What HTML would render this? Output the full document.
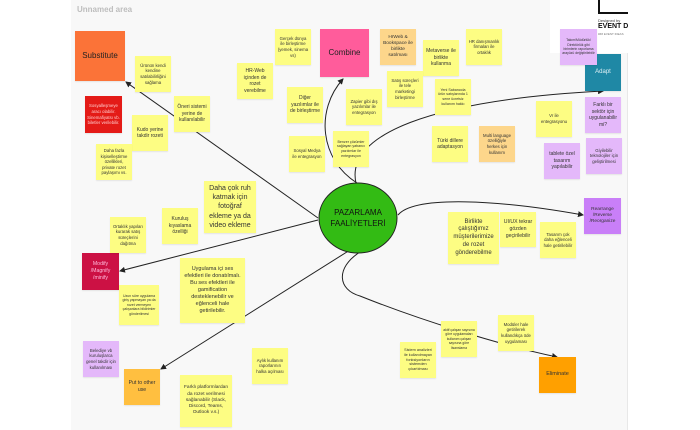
<!DOCTYPE html>
<html><head><meta charset="utf-8"><style>
*{margin:0;padding:0;box-sizing:border-box}
body{width:700px;height:430px;background:#fff;position:relative;overflow:hidden;font-family:"Liberation Sans",sans-serif}
#cv{position:absolute;left:71px;top:0;width:557px;height:430px;background:#f8f8f8;border-right:1px solid #e8e8e8}
.n{position:absolute;width:36px;height:36px;background:#fdfd83;color:#333;display:flex;align-items:center;justify-content:center;text-align:center;font-size:4.3px;line-height:1.3;padding:2px;box-shadow:0 1px 1px rgba(0,0,0,.08)}
.m{font-size:5.5px}
.l{font-size:7px;line-height:1.3}
.o{background:#fdd68b}
.p{background:#e4b8fa}
.big{width:50px;height:50px;font-size:8px}
</style></head><body>
<div id="cv"></div>
<div style="position:absolute;left:77px;top:5px;font-size:8px;color:#bdbdbd;font-weight:bold">Unnamed area</div>
<div style="position:absolute;left:550px;top:0;width:78px;height:53px;background:#fff"></div>
<div style="position:absolute;left:598px;top:0;width:30px;height:14px;border-left:2px solid #111;border-bottom:2px solid #111"></div>
<div style="position:absolute;left:598px;top:18px;font-size:4px;color:#333">Designed by</div>
<div style="position:absolute;left:598px;top:23px;font-size:7px;font-weight:bold;color:#111;white-space:nowrap;width:30px;overflow:hidden">EVENT D</div>
<div style="position:absolute;left:598px;top:32px;font-size:3px;color:#777;white-space:nowrap;width:30px;overflow:hidden">### EVENT IDEAS</div>

<svg style="position:absolute;left:0;top:0" width="700" height="430">
<defs><marker id="a" markerWidth="6" markerHeight="6" refX="5" refY="3" orient="auto"><path d="M0,0 L6,3 L0,6z" fill="#222"/></marker></defs>
<g stroke="#222" stroke-width="1" fill="none" marker-end="url(#a)">
<path d="M318,218 L126,82"/>
<path d="M318,220 L120,271"/>
<path d="M350,250 L161,369"/>
<path d="M357,183 C320,160 315,110 343,79"/>
<path d="M356,183 C345,135 430,100 603,91"/>
<path d="M398,215 C415,195 500,200 583,215"/>
<path d="M360,252 C335,268 338,290 360,296 C420,320 500,345 557,357"/>
</g>
<ellipse cx="358" cy="218" rx="39" ry="35" fill="#33bb14" stroke="#222" stroke-width="1"/>
<text x="358" y="215" text-anchor="middle" font-size="8" fill="#111">PAZARLAMA</text>
<text x="358" y="226" text-anchor="middle" font-size="8" fill="#111">FAALİYETLERİ</text>
</svg>

<div class="n big" style="left:75px;top:31px;background:#fb7338;color:#222">Substitute</div>
<div class="n big" style="left:320px;top:29px;width:49px;height:48px;background:#ff5c9b;color:#222">Combine</div>
<div class="n" style="left:585px;top:54px;height:37px;background:#1f88a5;color:#e0f0f5;font-size:6px">Adapt</div>
<div class="n" style="left:584px;top:198px;width:37px;background:#c97ff8;font-size:4.8px">Rearrange /Reverse /Reorganize</div>
<div class="n" style="left:82px;top:253px;width:37px;height:37px;background:#cc1144;color:#fbd;font-size:5.2px">Modify /Magnify /minify</div>
<div class="n" style="left:124px;top:369px;background:#ffbf40;font-size:5.2px">Put to other use</div>
<div class="n" style="left:539px;top:357px;width:37px;background:#ffa000;font-size:5.5px">Eliminate</div>

<div class="n" style="left:135px;top:56px">Ürünün kendi kendine satılabilirliğini sağlama</div>
<div class="n" style="left:85px;top:96px;width:37px;height:37px;background:#e41b17;color:#fcc">Sosyalleşmeye aracı olabilir. Sinemafiyatsı vb. biletler verilebilir.</div>
<div class="n" style="left:174px;top:96px;font-size:5px">Öneri sistemi yerine de kullanılabilir</div>
<div class="n" style="left:132px;top:115px;font-size:5px">Kudo yerine takdir rozeti</div>
<div class="n" style="left:96px;top:144px">Daha fazla kişiselleştirme özellikleri, private rozet paylaşımı vs.</div>
<div class="n" style="left:275px;top:29px">Gerçek dünya ile birleştirme (yemek, sinema vs)</div>
<div class="n" style="left:237px;top:63px;font-size:5px">HR-Web içinden de rozet verebilme</div>
<div class="n" style="left:287px;top:87px;font-size:5px">Diğer yazılımlar ile de birleştirme</div>
<div class="n" style="left:289px;top:136px">Sosyal Medya ile entegrasyon</div>
<div class="n" style="left:346px;top:89px">Zapier gibi dış yazılımlar ile entegrasyon</div>
<div class="n" style="left:333px;top:131px;font-size:3.6px">Benzer çözümler sağlayan yabancı yazılımlar ile entegrasyon</div>
<div class="n l" style="left:204px;top:181px;width:52px;height:52px">Daha çok ruh katmak için fotoğraf ekleme ya da video ekleme</div>
<div class="n" style="left:162px;top:208px;font-size:5px">Kuruluş kıyaslama özelliği</div>
<div class="n o" style="left:380px;top:29px;font-size:4.8px">HrWeb &amp; Bookspace ile birlikte satılması</div>
<div class="n" style="left:423px;top:40px;font-size:5px">Metaverse ile birlikte kullanma</div>
<div class="n" style="left:466px;top:29px">HR danışmanlık firmaları ile ortaklık</div>
<div class="n" style="left:387px;top:71px">Satış süreçleri ile tele marketingi birleştirme</div>
<div class="n" style="left:435px;top:79px;font-size:3.6px">Yeni Sabancıda ürün satışlarında 1 sene ücretsiz kullanım hakkı</div>
<div class="n" style="left:432px;top:126px;font-size:5px">Türki dillere adaptasyon</div>
<div class="n o" style="left:479px;top:126px">Multi language özelliğiyle herkes için kullanım</div>
<div class="n" style="left:536px;top:101px">Vr ile entegrasyonu</div>
<div class="n p" style="left:560px;top:29px;width:37px;font-size:3.4px">Takım/Müdürlük/ Direktörlük gibi birimlerin raporlama arayüzü değiştirilebilir</div>
<div class="n p" style="left:585px;top:97px;font-size:5px">Farklı bir sektör için uygulanabilir mi?</div>
<div class="n p" style="left:586px;top:138px">Giyilebilir teknolojiler için geliştirilmesi</div>
<div class="n p" style="left:544px;top:143px;font-size:5px">tablete özel tasarım yapılabilir</div>
<div class="n" style="left:500px;top:212px;height:35px;font-size:5.2px">UI/UX tekrar gözden geçirilebilir</div>
<div class="n" style="left:448px;top:212px;width:51px;height:52px;font-size:6px">Birlikte çalıştığımız müşterilerimize de rozet gönderebilme</div>
<div class="n" style="left:540px;top:222px">Tasarım çok daha eğlenceli hale getirilebilir</div>
<div class="n" style="left:498px;top:315px">Modüler hale getirilerek kullandıkça öde uygulaması</div>
<div class="n" style="left:441px;top:321px;font-size:3.4px">aktif çalışan sayısına göre uygulamaları kullanım çalışan sayısına göre lisanslama</div>
<div class="n" style="left:400px;top:342px;font-size:3.8px">Sistem analizleri ile kullanılmayan fonksiyonların sistemden çıkartılması</div>
<div class="n" style="left:110px;top:217px">Ortaklık yapıları kurarak satış süreçlerini dağıtma</div>
<div class="n" style="left:119px;top:285px;width:40px;height:40px;font-size:3.5px">Uzun süre uygulama giriş yapmayan ya da rozet vermeyen çalışanlara bildirimler gönderilmesi</div>
<div class="n" style="left:180px;top:258px;width:65px;height:65px;font-size:5.5px">Uygulama içi ses efektleri ile donatılmalı. Bu ses efektleri ile gamification desteklenebilir ve eğlenceli hale getirilebilir.</div>
<div class="n p" style="left:83px;top:341px">Belediye vb kuruluşlarca genel takdir için kullanılması</div>
<div class="n" style="left:180px;top:375px;width:52px;height:52px;font-size:4.8px">Farklı platformlardan da rozet verilmesi sağlanabilir (Slack, Discord, Teams, Outlook v.s.)</div>
<div class="n" style="left:252px;top:348px">Aylık kullanım raporlarının halka açılması</div>
</body></html>
